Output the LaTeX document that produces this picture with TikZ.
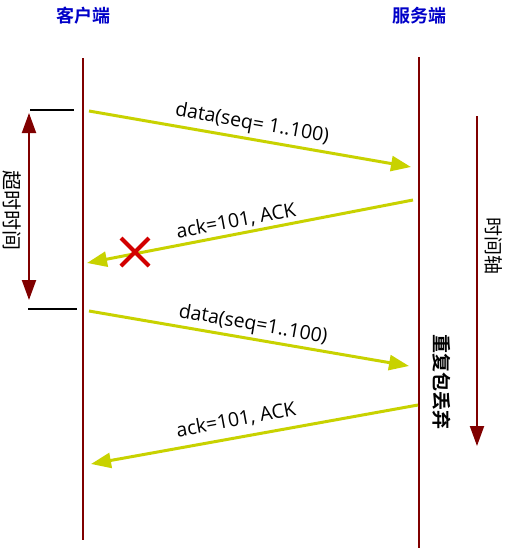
\documentclass[tikz,border=0pt]{standalone}
\usepackage{fontspec}
\setmainfont{Open Sans}
\newfontfamily\cjk{Noto Sans CJK SC}
\newfontfamily\cjkb{Noto Sans CJK SC Bold}
\usetikzlibrary{arrows.meta}
\definecolor{dred}{RGB}{128,0,0}
\definecolor{ygreen}{RGB}{200,210,0}
\definecolor{tblue}{RGB}{0,0,200}
\definecolor{xred}{RGB}{210,0,0}
\tikzset{
  life/.style={draw=dred,line width=2pt},
  msg/.style={draw=ygreen,line width=3pt,-{Triangle[length=20pt,width=15pt]}},
  msgtext/.style={font=\fontsize{19.5}{22}\selectfont,inner sep=0pt},
  title/.style={font=\cjkb\fontsize{18}{20}\selectfont,text=tblue,inner sep=0pt},
  side/.style={font=\cjk\fontsize{19}{21}\selectfont,inner sep=0pt,rotate=-90},
  sideb/.style={font=\cjkb\fontsize{19}{21}\selectfont,inner sep=0pt,rotate=-90},
  tick/.style={draw=black,line width=2pt},
  axis/.style={draw=dred,line width=2pt,-{Triangle[length=20pt,width=14pt]}},
  dbl/.style={draw=dred,line width=2pt,{Triangle[length=20pt,width=14pt]}-{Triangle[length=20pt,width=14pt]}},
}
\begin{document}
\begin{tikzpicture}[x=1pt,y=-1pt]
\useasboundingbox (0,0) rectangle (514,557);
% titles
\node[title] (tc) at (83,16) {客户端};
\node[title] (ts) at (419,16) {服务端};
% lifelines
\coordinate (ctop) at (83,58);
\coordinate (cbot) at (83,540);
\coordinate (stop) at (419,57);
\coordinate (sbot) at (419,548);
\draw[life] (ctop) -- (cbot);
\draw[life] (stop) -- (sbot);
% ticks
\coordinate (t1a) at (30,110); \coordinate (t1b) at (74,110);
\coordinate (t2a) at (28,309); \coordinate (t2b) at (77,309);
\draw[tick] (t1a) -- (t1b);
\draw[tick] (t2a) -- (t2b);
% timeout double arrow
\coordinate (da) at (29,113); \coordinate (db) at (29,300);
\draw[dbl] (da) -- (db);
\node[side,font=\cjk\fontsize{20}{22}\selectfont] (tolab) at (12,210) {超时时间};
% time axis
\coordinate (aa) at (477,116); \coordinate (ab) at (477,446);
\draw[axis] (aa) -- (ab);
\node[side] (axlab) at (494,246) {时间轴};
\node[sideb] (dup) at (442,382) {重复包丢弃};
% messages
\coordinate (m1a) at (89,111); \coordinate (m1b) at (411,167);
\coordinate (m2a) at (413,200); \coordinate (m2b) at (87,263);
\coordinate (m3a) at (89,311); \coordinate (m3b) at (409,366);
\coordinate (m4a) at (418,405); \coordinate (m4b) at (91,464);
\draw[msg] (m1a) -- (m1b);
\draw[msg] (m2a) -- (m2b);
\draw[msg] (m3a) -- (m3b);
\draw[msg] (m4a) -- (m4b);
\node[msgtext,rotate=-9.9] (l1) at (252,124) {data(seq= 1..100)};
\node[msgtext,rotate=10.5] (l2) at (236,221) {ack=101, ACK};
\node[msgtext,rotate=-9.9] (l3) at (253,325) {data(seq=1..100)};
\node[msgtext,rotate=10.5] (l4) at (236,420) {ack=101, ACK};
% red X
\coordinate (x1) at (121,238); \coordinate (x2) at (149,266);
\coordinate (x3) at (149,238); \coordinate (x4) at (121,266);
\draw[draw=xred,line width=4pt] (x1) -- (x2);
\draw[draw=xred,line width=4pt] (x3) -- (x4);
\end{tikzpicture}
\end{document}
